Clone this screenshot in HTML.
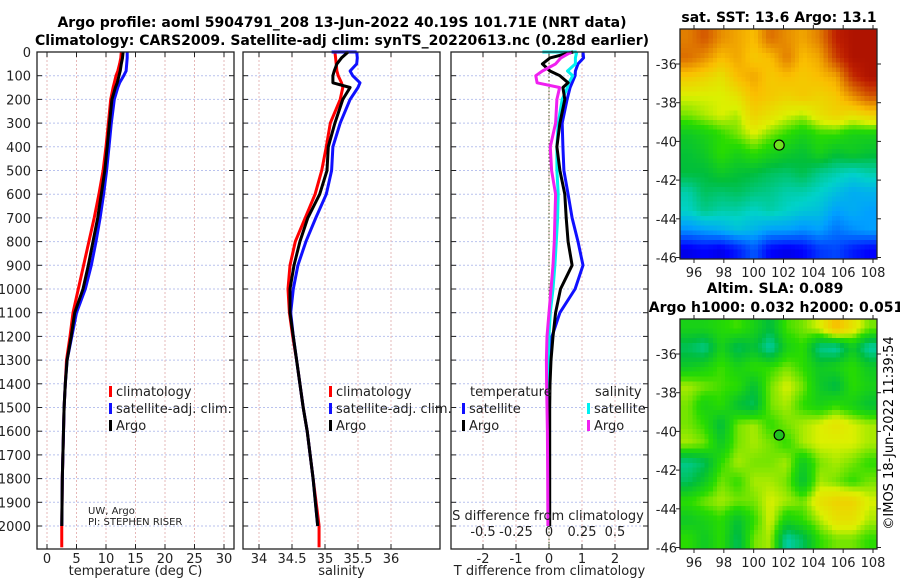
<!DOCTYPE html>
<html><head><meta charset="utf-8">
<style>
html,body{margin:0;padding:0;background:#fff;}
svg{display:block;font-family:"DejaVu Sans","Liberation Sans",sans-serif;}
</style></head>
<body>
<svg id="fig" width="900" height="580" viewBox="0 0 900 580" xmlns="http://www.w3.org/2000/svg">
<text x="342" y="27" font-size="14" font-weight="bold" text-anchor="middle">Argo profile: aoml 5904791_208 13-Jun-2022 40.19S 101.71E (NRT data)</text>
<text x="342" y="45" font-size="14" font-weight="bold" text-anchor="middle">Climatology: CARS2009. Satellite-adj clim: synTS_20220613.nc (0.28d earlier)</text>
<text x="779" y="22" font-size="14" font-weight="bold" text-anchor="middle">sat. SST: 13.6 Argo: 13.1</text>
<text x="775" y="293" font-size="14" font-weight="bold" text-anchor="middle">Altim. SLA: 0.089</text>
<text x="776" y="312" font-size="14" font-weight="bold" text-anchor="middle">Argo h1000: 0.032 h2000: 0.051</text>
<text transform="translate(893,433) rotate(-90)" font-size="13" text-anchor="middle">©IMOS 18-Jun-2022 11:39:54</text>
<g id="plots"></g>
</svg>
<script>
// ---- data ----
const depths = [0,25,50,80,100,130,150,200,300,400,500,600,700,800,900,1000,1100,1200,1300,1400,1500,1600,1800,2000];
const tempArgo = [12.9,12.8,12.6,12.4,12.2,11.9,11.6,11.0,10.6,10.2,9.8,9.2,8.6,7.8,7.0,6.1,4.7,4.1,3.4,3.1,2.9,2.8,2.6,2.5];
const tempClim = [12.6,12.5,12.3,12.0,11.7,11.4,11.2,10.8,10.4,10.0,9.5,8.8,8.0,7.1,6.2,5.3,4.4,3.9,3.3,3.1,2.9,2.8,2.6,2.5];
const tempSat  = [13.6,13.6,13.5,13.4,13.0,12.3,12.0,11.4,10.9,10.5,10.1,9.6,9.0,8.3,7.5,6.5,5.0,4.2,3.4,3.1,2.9,2.8,2.6,2.5];
const salArgo = [35.35,35.25,35.18,35.14,35.12,35.12,35.38,35.27,35.15,35.05,35.03,34.92,34.74,34.62,34.53,34.47,34.47,34.52,34.57,34.62,34.67,34.73,34.82,34.89];
const salClim = [35.15,35.16,35.17,35.18,35.2,35.25,35.27,35.23,35.08,35.02,34.95,34.85,34.7,34.55,34.47,34.44,34.46,34.51,34.57,34.62,34.67,34.73,34.82,34.91];
const salSat  = [35.48,35.49,35.48,35.38,35.42,35.53,35.5,35.38,35.23,35.12,35.10,35.02,34.86,34.71,34.59,34.52,34.48,34.52,34.57,34.62,34.67,34.73,34.82,34.89];
const tDiffArgo = [0.73,0.03,-0.2,0.03,0.33,0.58,0.42,0.48,0.33,0.24,0.33,0.48,0.52,0.58,0.70,0.35,0.2,0.12,0.06,0.03,0.02,0.02,0.02,0.02];
const tDiffSat  = [1.03,1.05,0.88,0.80,0.79,0.70,0.64,0.55,0.40,0.42,0.45,0.58,0.70,0.88,1.03,0.79,0.33,0.09,-0.03,-0.03,-0.03,-0.03,-0.03,-0.03];
const sDiffSat  = [0.21,0.2,0.2,0.14,0.18,0.15,0.14,0.1,0.07,0.06,0.06,0.07,0.065,0.055,0.045,0.03,0.01,0.0,-0.005,-0.005,-0.005,0,0,0];
const sDiffArgo = [0.17,0.09,0.05,-0.05,-0.1,-0.09,0.08,0.06,0.05,0.01,0.02,0.05,0.045,0.04,0.03,0.015,0.0,-0.015,-0.02,-0.018,-0.015,-0.012,-0.01,-0.008];
const depthTicks = [0,100,200,300,400,500,600,700,800,900,1000,1100,1200,1300,1400,1500,1600,1700,1800,1900,2000];
const tempTicks = [0,5,10,15,20,25,30];
const salTicks = [34,34.5,35,35.5,36];
const salTickLabels = ['34','34.5','35','35.5','36'];
const tDiffTicks = [-2,-1,0,1,2];
const sDiffTicks = [-0.5,-0.25,0,0.25,0.5];
const sDiffTickLabels = ['-0.5','-0.25','0','0.25','0.5'];
const latTicks = [-36,-38,-40,-42,-44,-46];
const lonTicks = [96,98,100,102,104,106,108];
const argoLon = 101.71, argoLat = -40.19;
const sstGrid = [
[.80,.85,.78,.75,.72,.82,.78,.75,.80,.92,.95,.95],
[.82,.78,.72,.75,.70,.72,.80,.72,.75,.88,.95,.95],
[.70,.68,.65,.72,.75,.70,.72,.70,.72,.75,.90,.95],
[.62,.62,.62,.65,.72,.70,.68,.70,.68,.70,.78,.85],
[.58,.60,.62,.60,.68,.65,.62,.60,.65,.68,.65,.68],
[.50,.52,.55,.58,.62,.58,.55,.52,.55,.55,.52,.52],
[.48,.50,.55,.52,.55,.52,.50,.48,.52,.48,.50,.48],
[.47,.47,.50,.48,.47,.45,.44,.46,.42,.40,.38,.40],
[.40,.45,.44,.45,.43,.42,.40,.40,.38,.35,.32,.33],
[.38,.42,.40,.40,.38,.40,.38,.36,.35,.30,.32,.30],
[.28,.30,.32,.35,.33,.30,.30,.28,.30,.25,.28,.30],
[.10,.12,.10,.15,.22,.12,.10,.12,.18,.20,.15,.12]];
const slaGrid = [
[.52,.52,.54,.56,.52,.47,.56,.58,.62,.72,.65,.58],
[.45,.42,.52,.45,.48,.40,.52,.55,.42,.40,.50,.40],
[.50,.52,.56,.52,.55,.55,.58,.55,.50,.52,.55,.50],
[.60,.58,.56,.55,.48,.58,.62,.58,.50,.46,.55,.52],
[.58,.52,.55,.48,.45,.58,.60,.55,.52,.55,.52,.48],
[.58,.55,.47,.58,.60,.55,.58,.60,.62,.65,.62,.60],
[.60,.58,.50,.58,.60,.58,.55,.60,.62,.62,.62,.60],
[.42,.45,.55,.60,.58,.58,.60,.50,.58,.60,.58,.55],
[.45,.50,.58,.55,.60,.60,.58,.48,.60,.58,.55,.58],
[.55,.58,.60,.58,.58,.62,.60,.58,.65,.68,.68,.62],
[.50,.52,.55,.48,.55,.62,.52,.55,.60,.65,.65,.60],
[.55,.50,.55,.45,.58,.60,.40,.45,.55,.58,.58,.55]];

// ---- scales ----
const NS='http://www.w3.org/2000/svg';
const root=document.getElementById('plots');
function mk(tag,attrs,parent){const e=document.createElementNS(NS,tag);for(const k in attrs)e.setAttribute(k,attrs[k]);(parent||root).appendChild(e);return e;}
const PT=52, PB=549;
const yD = d => PT + d*0.237;
const xT = t => 47 + 5.9*t;
const xS = s => 259 + 66*(s-34);
const xTd = v => 549 + 33*v;
const xSd = v => 549 + 132*v;
const MAP1={l:680,r:877,t:29,b:259}, MAP2={l:680,r:877,t:319,b:549};
const lonX = lon => 694 + (lon-96)*(179/12);
const latY = (m,lat) => m.t + 35 + (-36-lat)*19.35;

function jet(v){
  const stops=[[0,[0,0,130]],[0.12,[0,0,255]],[0.3,[0,160,255]],[0.38,[0,210,200]],[0.47,[0,190,60]],[0.55,[40,220,0]],[0.62,[220,240,0]],[0.72,[250,190,0]],[0.82,[220,110,0]],[0.92,[190,30,0]],[1,[150,0,0]]];
  for(let i=1;i<stops.length;i++){if(v<=stops[i][0]){const a=stops[i-1],b=stops[i];const f=(v-a[0])/(b[0]-a[0]);return 'rgb('+a[1].map((c,j)=>Math.round(c+(b[1][j]-c)*f)).join(',')+')';}}
  return 'rgb(150,0,0)';
}
function sample(grid,fy,fx){
  const R=grid.length,C=grid[0].length;
  const y=Math.max(0,Math.min(R-1,fy*R-0.5)), x=Math.max(0,Math.min(C-1,fx*C-0.5));
  const y0=Math.floor(y),x0=Math.floor(x),y1=Math.min(R-1,y0+1),x1=Math.min(C-1,x0+1);
  const a=y-y0,b=x-x0;
  return grid[y0][x0]*(1-a)*(1-b)+grid[y0][x1]*(1-a)*b+grid[y1][x0]*a*(1-b)+grid[y1][x1]*a*b;
}

function panel(name,x0,x1,xticks,xfun,xlabels,xtitle){
  const g=mk('g',{});
  
  
  depthTicks.forEach(d=>{const l=mk('line',{x1:x0,x2:x1,y1:yD(d),y2:yD(d),stroke:'#b9c2ee','stroke-width':1,'stroke-dasharray':'2,2'},g);
    mk('line',{x1:x0,x2:x0+5,y1:yD(d),y2:yD(d),stroke:'#222'},g);mk('line',{x1:x1-5,x2:x1,y1:yD(d),y2:yD(d),stroke:'#222'},g);});
  xticks.forEach((v,i)=>{const x=xfun(v);const l=mk('line',{x1:x,x2:x,y1:PT,y2:PB,stroke:'#e6b8b8','stroke-width':1,'stroke-dasharray':'2,2'},g);
    mk('line',{x1:x,x2:x,y1:PB-5,y2:PB,stroke:'#222'},g);mk('line',{x1:x,x2:x,y1:PT,y2:PT+5,stroke:'#222'},g);
    const t=mk('text',{x:x,y:563,'font-size':13,'text-anchor':'middle',fill:'#222'},g);t.textContent=xlabels[i];});
  const tt=mk('text',{x:(x0+x1)/2,y:575,'font-size':13,'text-anchor':'middle',fill:'#222'},g);tt.textContent=xtitle;
  
  
  return g;
}
function line(g,xs,xfun,color,name,w){
  const pts=depths.map((d,i)=>xfun(xs[i]).toFixed(1)+','+yD(d).toFixed(1)).join(' ');
  const p=mk('polyline',{points:pts,fill:'none',stroke:color,'stroke-width':w||3,'stroke-linejoin':'round'},g);
  
  
  return p;
}
function frame(g,x0,x1,y0,y1){mk('rect',{x:x0,y:y0,width:x1-x0,height:y1-y0,fill:'none',stroke:'#222','stroke-width':1.3},g);}
function legend(g,x,y,color,label,bar){
  if(bar){const b=mk('rect',{x:x,y:y-10,width:3,height:11,fill:color},g);}
  const t=mk('text',{x:x+(bar?7:0),y:y,'font-size':13,fill:'#222'},g);t.textContent=label;
  
  
}

// Panel 1: temperature
const g1=panel('temperature-panel',37,234,tempTicks,xT,tempTicks.map(String),'temperature (deg C)');
depthTicks.forEach(d=>{const t=mk('text',{x:31,y:yD(d)+5,'font-size':13,'text-anchor':'end',fill:'#222'},g1);t.textContent=d;});
line(g1,tempClim,xT,'#f00','temp-climatology-line');
line(g1,tempSat,xT,'#1010ff','temp-satellite-line');
line(g1,tempArgo,xT,'#000','temp-argo-line');
mk('line',{x1:xT(2.5),x2:xT(2.5),y1:yD(2000),y2:yD(2090),stroke:'#f00','stroke-width':3},g1);
frame(g1,37,234,PT,PB);
legend(g1,109,396,'#f00','climatology',true);legend(g1,109,413,'#1010ff','satellite-adj. clim.',true);legend(g1,109,430,'#000','Argo',true);
const c1=mk('text',{x:88,y:514,'font-size':10,fill:'#222'},g1);c1.textContent='UW, Argo';
const c2=mk('text',{x:88,y:525,'font-size':10,fill:'#222'},g1);c2.textContent='PI: STEPHEN RISER';

// Panel 2: salinity
const g2=panel('salinity-panel',243,440,salTicks,xS,salTickLabels,'salinity');
line(g2,salClim,xS,'#f00','sal-climatology-line');
mk('line',{x1:xS(34.91),x2:xS(34.91),y1:yD(2000),y2:yD(2090),stroke:'#f00','stroke-width':3},g2);
line(g2,salSat,xS,'#1010ff','sal-satellite-line');
mk('line',{x1:xS(35.1),x2:xS(35.48),y1:yD(0),y2:yD(0),stroke:'#1010ff','stroke-width':3},g2);
line(g2,salArgo,xS,'#000','sal-argo-line');
frame(g2,243,440,PT,PB);
legend(g2,329,396,'#f00','climatology',true);legend(g2,329,413,'#1010ff','satellite-adj. clim.',true);legend(g2,329,430,'#000','Argo',true);

// Panel 3: differences
const g3=panel('difference-panel',451,648,tDiffTicks,xTd,tDiffTicks.map(String),'T difference from climatology');
const zl=mk('line',{x1:xTd(0),x2:xTd(0),y1:PT,y2:PB,stroke:'#445522','stroke-width':1,'stroke-dasharray':'1.5,2'},g3);


line(g3,tDiffSat,xTd,'#1010ff','tdiff-satellite-line');
line(g3,sDiffSat,xSd,'#00f0f0','sdiff-satellite-line');
mk('line',{x1:xSd(-0.05),x2:xSd(0.21),y1:yD(0),y2:yD(0),stroke:'#00f0f0','stroke-width':3},g3);
line(g3,tDiffArgo,xTd,'#000','tdiff-argo-line');
line(g3,sDiffArgo,xSd,'#f020f0','sdiff-argo-line');
frame(g3,451,648,PT,PB);
legend(g3,470,396,'#222','temperature',false);legend(g3,462,413,'#1010ff','satellite',true);legend(g3,462,430,'#000','Argo',true);
legend(g3,595,396,'#222','salinity',false);legend(g3,587,413,'#00f0f0','satellite',true);legend(g3,587,430,'#f020f0','Argo',true);
const st=mk('text',{x:548,y:520,'font-size':13,'text-anchor':'middle',fill:'#222'},g3);st.textContent='S difference from climatology';


sDiffTicks.forEach((v,i)=>{const t=mk('text',{x:xSd(v),y:536,'font-size':13,'text-anchor':'middle',fill:'#222'},g3);t.textContent=sDiffTickLabels[i];});

// Maps
function map(name,m,grid,markerFill){
  const g=mk('g',{});
  
  
  const N=48, M=48;
  const cw=(m.r-m.l)/M, ch=(m.b-m.t)/N;
  const cells=mk('g',{'shape-rendering':'crispEdges'},g);
  for(let r=0;r<N;r++)for(let c=0;c<M;c++){
    const v=sample(grid,(r+0.5)/N,(c+0.5)/M);
    const e=mk('rect',{x:(m.l+c*cw).toFixed(2),y:(m.t+r*ch).toFixed(2),width:(cw+0.5).toFixed(2),height:(ch+0.5).toFixed(2),fill:jet(v)},cells);
    
    
  }
  latTicks.forEach(lat=>{const y=latY(m,lat);mk('line',{x1:m.l-4,x2:m.l,y1:y,y2:y,stroke:'#222'},g);mk('line',{x1:m.r,x2:m.r+4,y1:y,y2:y,stroke:'#222'},g);
    const t=mk('text',{x:m.l-3,y:y+5,'font-size':13,'text-anchor':'end',fill:'#222'},g);t.textContent=lat;});
  lonTicks.forEach(lon=>{const x=lonX(lon);mk('line',{x1:x,x2:x,y1:m.b,y2:m.b+4,stroke:'#222'},g);mk('line',{x1:x,x2:x,y1:m.t-4,y2:m.t,stroke:'#222'},g);
    const t=mk('text',{x:x,y:m.b+18,'font-size':13,'text-anchor':'middle',fill:'#222'},g);t.textContent=lon;});
  mk('rect',{x:m.l,y:m.t,width:m.r-m.l,height:m.b-m.t,fill:'none',stroke:'#222','stroke-width':1.3},g);
  const mkr=mk('circle',{cx:lonX(argoLon),cy:latY(m,argoLat),r:5,fill:markerFill,stroke:'#000','stroke-width':1.2},g);
  
  
}
map('sst-map',MAP1,sstGrid,'#70e020');
map('sla-map',MAP2,slaGrid,'#20c020');
</script>
</body></html>
